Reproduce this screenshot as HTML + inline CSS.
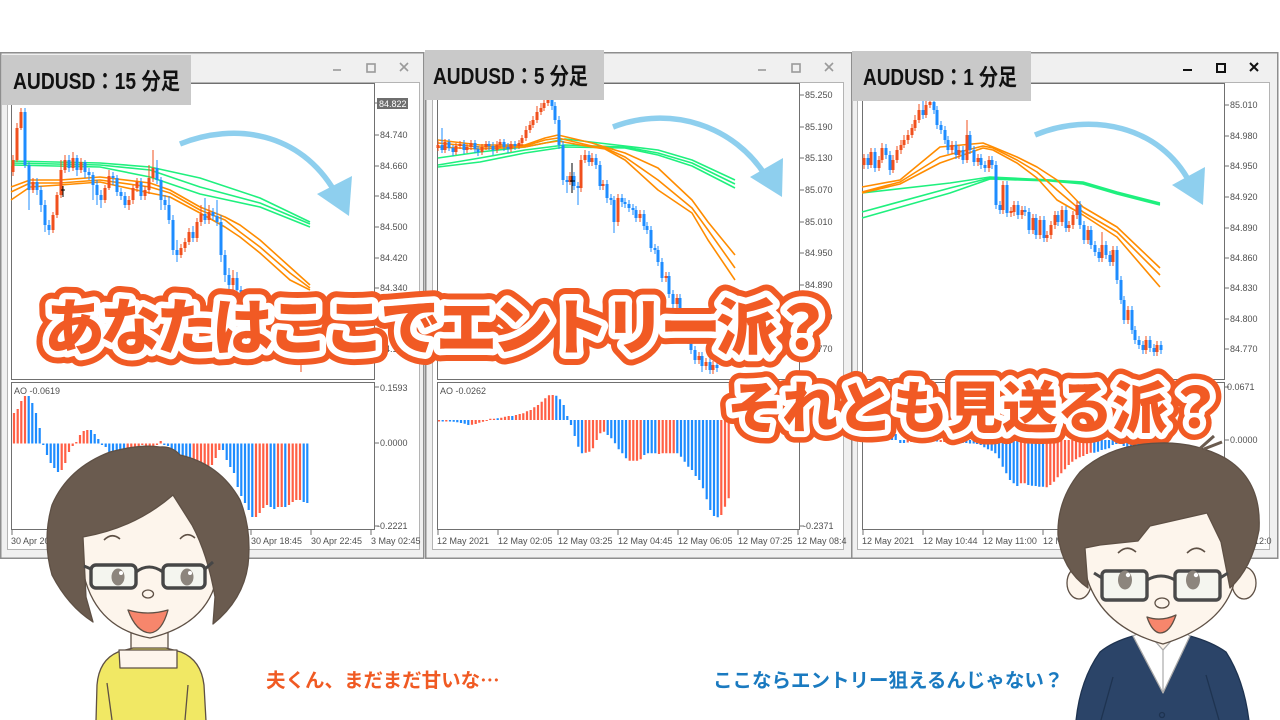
<!DOCTYPE html>
<html><head><meta charset="utf-8"><style>
html,body{margin:0;padding:0;background:#fff;width:1280px;height:720px;overflow:hidden}
svg{display:block}
</style></head><body>
<svg width="1280" height="720" viewBox="0 0 1280 720" xmlns="http://www.w3.org/2000/svg">
<rect width="1280" height="720" fill="#fff"/>

<!-- ================= WINDOW FRAMES ================= -->
<g>
<rect x="0.75" y="52.75" width="423" height="505.5" fill="#f0f0f0" stroke="#8e8e8e" stroke-width="1.5"/>
<rect x="7.5" y="82.5" width="412" height="467" fill="#fff" stroke="#b4b4b4"/>
<rect x="11.5" y="83.5" width="363" height="296" fill="#fff" stroke="#707070"/>
<rect x="11.5" y="382.5" width="363" height="147" fill="#fff" stroke="#707070"/>

<rect x="425.75" y="52.75" width="426" height="505.5" fill="#f0f0f0" stroke="#8e8e8e" stroke-width="1.5"/>
<rect x="432.5" y="82.5" width="411" height="467" fill="#fff" stroke="#b4b4b4"/>
<rect x="437.5" y="83.5" width="362" height="296" fill="#fff" stroke="#707070"/>
<rect x="437.5" y="382.5" width="362" height="147" fill="#fff" stroke="#707070"/>

<rect x="851.75" y="52.75" width="426" height="505.5" fill="#f0f0f0" stroke="#8e8e8e" stroke-width="1.5"/>
<rect x="857.5" y="82.5" width="412" height="467" fill="#fff" stroke="#b4b4b4"/>
<rect x="862.5" y="83.5" width="362" height="296" fill="#fff" stroke="#707070"/>
<rect x="862.5" y="382.5" width="362" height="147" fill="#fff" stroke="#707070"/>
</g>

<!-- title buttons -->
<g fill="none" stroke="#9a9a9a" stroke-width="1.6">
<path d="M333 70H341"/><rect x="367" y="64" width="8" height="8"/><path d="M400 63L408 71M408 63L400 71"/>
<path d="M758 70H766"/><rect x="792" y="64" width="8" height="8"/><path d="M825 63L833 71M833 63L825 71"/>
</g>
<g fill="none" stroke="#111" stroke-width="2">
<path d="M1183 70H1192"/><rect x="1217" y="64" width="8" height="8"/><path d="M1250 63L1258 71M1258 63L1250 71"/>
</g>

<!-- price axis ticks & labels -->
<g stroke="#707070" stroke-width="1">
<path d="M375 135H379M375 166H379M375 196H379M375 227H379M375 258H379M375 288H379M375 319H379M375 349H379M375 103H379"/>
<path d="M800 95H804M800 127H804M800 158H804M800 190H804M800 222H804M800 253H804M800 285H804M800 317H804M800 349H804"/>
<path d="M1225 105H1229M1225 136H1229M1225 166H1229M1225 197H1229M1225 228H1229M1225 258H1229M1225 288H1229M1225 319H1229M1225 349H1229"/>
<path d="M375 387H379M375 443H379M375 526H379M800 526H804M1225 387H1229M1225 440H1229"/>
<path d="M12 530V535M72 530V535M132 530V535M192 530V535M251 530V535M311 530V535M371 530V535"/>
<path d="M438 530V535M498 530V535M558 530V535M618 530V535M678 530V535M738 530V535M798 530V535"/>
<path d="M863 530V535M923 530V535M983 530V535M1043 530V535M1103 530V535M1163 530V535M1223 530V535"/>
</g>
<g font-family="'Liberation Sans',sans-serif" font-size="9" fill="#505050">
<rect x="377" y="98" width="31" height="11" fill="#6e6e6e"/>
<text x="379" y="107" fill="#fff">84.822</text>
<text x="380" y="138">84.740</text><text x="380" y="169">84.660</text><text x="380" y="199">84.580</text><text x="380" y="230">84.500</text><text x="380" y="261">84.420</text><text x="380" y="291">84.340</text><text x="380" y="322">84.260</text><text x="380" y="352">84.180</text>
<text x="805" y="98">85.250</text><text x="805" y="130">85.190</text><text x="805" y="161">85.130</text><text x="805" y="193">85.070</text><text x="805" y="225">85.010</text><text x="805" y="256">84.950</text><text x="805" y="288">84.890</text><text x="805" y="320">84.830</text><text x="805" y="352">84.770</text>
<text x="1230" y="108">85.010</text><text x="1230" y="139">84.980</text><text x="1230" y="169">84.950</text><text x="1230" y="200">84.920</text><text x="1230" y="231">84.890</text><text x="1230" y="261">84.860</text><text x="1230" y="291">84.830</text><text x="1230" y="322">84.800</text><text x="1230" y="352">84.770</text>
<text x="380" y="391">0.1593</text><text x="380" y="446">0.0000</text><text x="377" y="529">-0.2221</text>
<text x="805" y="391">0.1226</text><text x="805" y="423">0.0000</text><text x="803" y="529">-0.2371</text>
<text x="1227" y="390">0.0671</text><text x="1230" y="443">0.0000</text><text x="1228" y="529">-0.1836</text>
<text x="14" y="394">AO -0.0619</text><text x="440" y="394">AO -0.0262</text><text x="865" y="394">AO -0.0412</text>
<text x="11" y="544">30 Apr 2021</text><text x="73" y="544">30 Apr 06:45</text><text x="133" y="544">30 Apr 10:45</text><text x="193" y="544">30 Apr 14:45</text><text x="251" y="544">30 Apr 18:45</text><text x="311" y="544">30 Apr 22:45</text><text x="371" y="544">3 May 02:45</text>
<text x="437" y="544">12 May 2021</text><text x="498" y="544">12 May 02:05</text><text x="558" y="544">12 May 03:25</text><text x="618" y="544">12 May 04:45</text><text x="678" y="544">12 May 06:05</text><text x="738" y="544">12 May 07:25</text><text x="797" y="544">12 May 08:4</text>
<text x="862" y="544">12 May 2021</text><text x="923" y="544">12 May 10:44</text><text x="983" y="544">12 May 11:00</text><text x="1043" y="544">12 May 11:16</text><text x="1103" y="544">12 May 11:32</text><text x="1163" y="544">12 May 11:48</text><text x="1222" y="544">12 May 12:0</text>
</g>

<!-- ================= CHART 1 ================= -->
<g fill="none" stroke-width="1.6" stroke-linejoin="round">
<polyline stroke="#1ff07e" points="11,161 100,163 150,167 200,178 260,198 310,222"/>
<polyline stroke="#1ff07e" points="11,163 100,165 150,170 200,187 260,203 310,224"/>
<polyline stroke="#1ff07e" points="11,165 100,167 150,177 200,194 260,207 310,227"/>
<polyline stroke="#ff8c00" points="11,187 30,180 60,180 100,177 150,183 170,190 200,207 225,217 240,225 260,240 290,267 310,285"/>
<polyline stroke="#ff8c00" points="11,192 30,183 60,183 100,180 150,187 170,193 200,210 225,220 240,232 260,247 290,273 310,288"/>
<polyline stroke="#ff8c00" points="11,200 30,187 60,185 100,182 150,193 170,197 200,213 225,227 240,237 260,253 290,280 310,290"/>
</g>
<path stroke="#f0501e" stroke-width="1" d="M13 155V176M17 123V162M21 108V130M33 178V193M53 212V233M57 192V218M61 160V198M65 155V173M73 152V171M81 158V173M105 185V203M109 170V190M129 196V210M133 185V204M137 178V192M145 186V200M149 165V194M153 150V182M181 244V258M185 238V252M189 228V245M197 218V242M201 205V226M209 205V224M233 270V292M245 290V305M265 315V330M281 335V350M293 348V362M301 350V372"/>
<path stroke="#f0501e" stroke-width="3" d="M13 160V172M17 128V160M21 112V128M33 182V190M53 215V230M57 195V215M61 170V195M65 160V170M73 158V168M81 162V170M105 188V200M109 176V188M129 200V205M133 188V200M137 182V188M145 190V196M149 178V190M153 168V178M181 248V255M185 242V248M189 232V242M197 222V238M201 214V222M209 212V220M233 278V285M245 296V300M265 320V325M281 340V345M293 352V356M301 355V358"/>
<path stroke="#1e8cff" stroke-width="1" d="M25 108V168M29 162V210M37 178V195M41 186V212M45 200V232M49 220V235M69 155V172M77 155V176M85 160V178M89 168V180M93 172V200M97 180V205M101 190V208M113 172V185M117 175V196M121 188V200M125 192V208M141 178V200M157 160V184M161 177V210M165 195V210M169 196V224M173 215V255M177 240V262M193 226V242M205 198V224M213 208V220M217 200V226M221 215V262M225 250V282M229 268V290M237 272V296M241 286V304M249 292V309M253 301V316M257 308V322M261 314V329M269 316V334M273 326V342M277 334V349M285 336V354M289 346V360M297 348V362M305 351V364"/>
<path stroke="#1e8cff" stroke-width="3" d="M25 112V165M29 165V190M37 182V190M41 190V205M45 205V225M49 225V230M69 160V168M77 158V170M85 162V172M89 172V175M93 175V185M97 185V195M101 195V200M113 176V178M117 178V192M121 192V196M125 196V205M141 182V196M157 168V180M161 180V200M165 200V205M169 205V220M173 220V250M177 250V255M193 232V238M205 214V220M213 212V216M217 216V222M221 222V255M225 255V275M229 275V285M237 278V290M241 290V300M249 296V305M253 305V312M257 312V318M261 318V325M269 320V330M273 330V338M277 338V345M285 340V350M289 350V356M297 352V358M305 355V360"/>
<path stroke="#000" stroke-width="1" d="M63 186V197M61 190H65"/>
<path stroke="#ff5f45" stroke-width="2.2" d="M14 443.5V413M17.7 443.5V409M21.3 443.5V401M25 443.5V396M61.7 443.5V470M65.3 443.5V463M69 443.5V452M72.7 443.5V446M76.3 443.5V442M80 443.5V435M83.7 443.5V431M87.3 443.5V430M127.7 443.5V452M131.3 443.5V448M135 443.5V447M138.7 443.5V446M142.3 443.5V445M146 443.5V446M149.7 443.5V447M153.3 443.5V446M157 443.5V445M160.7 443.5V441M193.7 443.5V470M197.3 443.5V471M201 443.5V473M204.7 443.5V472M208.3 443.5V469M212 443.5V465M215.7 443.5V458M219.3 443.5V450M256 443.5V517M259.7 443.5V513M263.3 443.5V508M267 443.5V505M278 443.5V507M281.7 443.5V507M289 443.5V505M292.7 443.5V502M296.3 443.5V500M300 443.5V500"/>
<path stroke="#1e8cff" stroke-width="2.2" d="M28.7 443.5V396M32.3 443.5V403M36 443.5V413M39.7 443.5V428M43.3 443.5V445M47 443.5V455M50.7 443.5V463M54.3 443.5V468M58 443.5V472M91 443.5V430M94.7 443.5V434M98.3 443.5V439M102 443.5V445M105.7 443.5V447M109.3 443.5V452M113 443.5V458M116.7 443.5V460M120.3 443.5V459M124 443.5V455M164.3 443.5V445M168 443.5V446M171.7 443.5V450M175.3 443.5V455M179 443.5V460M182.7 443.5V467M186.3 443.5V468M190 443.5V469M223 443.5V450M226.7 443.5V460M230.3 443.5V467M234 443.5V473M237.7 443.5V487M241.3 443.5V496M245 443.5V503M248.7 443.5V510M252.3 443.5V517M270.7 443.5V507M274.3 443.5V509M285.3 443.5V507M303.7 443.5V502M307.3 443.5V503"/>

<!-- ================= CHART 2 ================= -->
<g fill="none" stroke-width="1.6" stroke-linejoin="round">
<polyline stroke="#1ff07e" points="438,158 480,152 525,147 565,139 625,146 658,150 692,160 735,180"/>
<polyline stroke="#1ff07e" points="438,165 480,158 525,150 565,145 625,147 658,153 692,163 735,184"/>
<polyline stroke="#1ff07e" points="438,167 480,162 525,153 565,147 625,148 658,155 692,166 735,188"/>
<polyline stroke="#ff8c00" points="438,140 480,145 525,145 545,138 558,135 592,143 605,147 625,153 658,168 692,200 708,222 735,255"/>
<polyline stroke="#ff8c00" points="438,143 480,147 525,146 545,140 558,138 592,146 605,148 625,157 658,180 692,208 708,230 735,268"/>
<polyline stroke="#ff8c00" points="438,147 480,149 525,147 545,143 558,141 592,147 605,149 625,160 658,190 692,213 708,240 735,280"/>
</g>
<path stroke="#f0501e" stroke-width="1" d="M438 141V151M445 139V153M456 143V155M460 141V149M467 144V153M471 140V150M482 144V155M486 141V150M497 141V153M500 139V148M511 141V152M519 140V149M522 135V146M526 126V141M530 121V133M533 116V128M537 106V123M541 103V115M544 99V111M548 96V106M570 172V185M581 155V192M585 150V163M592 153V166M603 180V190M618 194V226M640 210V222M666 272V282M677 294V308M699 352V364M706 358V370M713 361V374"/>
<path stroke="#f0501e" stroke-width="3" d="M438 145V148M445 142V150M456 146V152M460 144V146M467 147V150M471 143V147M482 147V152M486 144V147M497 145V150M500 142V145M511 144V149M519 143V146M522 138V143M526 130V138M530 125V130M533 120V125M537 112V120M541 108V112M544 103V108M548 100V103M570 176V182M581 160V188M585 155V160M592 158V162M603 184V186M618 198V222M640 214V218M666 276V278M677 298V304M699 356V360M706 362V366M713 365V370"/>
<path stroke="#1e8cff" stroke-width="1" d="M442 128V153M449 139V151M453 145V156M464 140V154M475 140V153M478 146V156M489 141V150M493 142V155M504 139V151M508 143V153M515 141V150M552 97V110M555 102V124M559 116V149M563 141V185M567 176V193M574 172V190M578 182V205M589 151V166M596 154V169M600 161V190M607 180V203M611 194V205M614 196V233M622 194V207M625 198V208M629 200V212M633 204V215M636 206V222M644 210V230M647 222V234M651 226V252M655 244V254M658 246V266M662 258V282M669 272V298M673 290V308M680 294V322M684 314V332M688 324V344M691 336V354M695 346V364M702 352V372M710 358V374M717 361V372"/>
<path stroke="#1e8cff" stroke-width="3" d="M442 145V150M449 142V148M453 148V152M464 144V150M475 143V149M478 149V152M489 144V146M493 146V150M504 142V147M508 147V149M515 144V146M552 100V106M555 106V120M559 120V145M563 145V180M567 180V182M574 176V186M578 186V188M589 155V162M596 158V165M600 165V186M607 184V198M611 198V200M614 200V222M622 198V202M625 202V204M629 204V208M633 208V210M636 210V218M644 214V226M647 226V230M651 230V248M655 248V250M658 250V262M662 262V278M669 276V294M673 294V304M680 298V318M684 318V328M688 328V340M691 340V350M695 350V360M702 356V366M710 362V370M717 365V368"/>
<path stroke="#000" stroke-width="1" d="M572 163V193M570 181H575"/>
<path stroke="#ff5f45" stroke-width="2.2" d="M439 420V421.5M446.3 420V421.5M472 420V424.7M475.7 420V424M479.3 420V422.7M483 420V421.7M486.7 420V421M490.3 420V418.7M494 420V418.7M501.3 420V417.7M505 420V416.7M508.7 420V416M516 420V415M519.7 420V414M523.3 420V413.3M527 420V411.3M530.7 420V410M534.3 420V407.3M538 420V405M541.7 420V401.7M545.3 420V398.3M549 420V395.3M552.7 420V395M585.7 420V452.7M589.3 420V451.7M593 420V448.3M596.7 420V440M600.3 420V433.3M604 420V431.7M629.7 420V460.7M633.3 420V460.7M637 420V460.7M640.7 420V459.3M659 420V454M662.7 420V453.3M666.3 420V453.3M670 420V453.3M673.7 420V453.3M721.3 420V515M725 420V506.7M728.7 420V498.3"/>
<path stroke="#1e8cff" stroke-width="2.2" d="M442.7 420V421.5M450 420V421.5M453.7 420V421.7M457.3 420V422.3M461 420V423M464.7 420V423.7M468.3 420V425M497.7 420V418.3M512.3 420V416M556.3 420V395.7M560 420V399.3M563.7 420V405M567.3 420V416M571 420V425M574.7 420V436M578.3 420V446.7M582 420V453.3M607.7 420V435M611.3 420V438.3M615 420V443.3M618.7 420V449.3M622.3 420V453.3M626 420V458.3M644.3 420V455M648 420V453.3M651.7 420V453.3M655.3 420V453.3M677.3 420V453.3M681 420V456.7M684.7 420V461.7M688.3 420V466.7M692 420V470M695.7 420V476M699.3 420V480M703 420V488.3M706.7 420V499.3M710.3 420V510M714 420V516M717.7 420V517.3"/>

<!-- ================= CHART 3 ================= -->
<g fill="none" stroke-width="1.6" stroke-linejoin="round">
<polyline stroke="#1ff07e" points="862,193 950,183 990,177 1050,180 1083,182 1117,192 1160,203"/>
<polyline stroke="#1ff07e" points="862,212 950,188 990,178 1050,180 1083,183 1117,193 1160,204"/>
<polyline stroke="#1ff07e" points="862,218 950,193 990,179 1050,181 1083,184 1117,194 1160,205"/>
<polyline stroke="#ff8c00" points="862,187 900,180 940,147 983,143 993,147 1017,157 1037,167 1057,180 1083,207 1117,227 1160,268"/>
<polyline stroke="#ff8c00" points="862,192 900,182 940,157 983,146 993,148 1017,160 1037,172 1057,190 1083,212 1117,232 1160,275"/>
<polyline stroke="#ff8c00" points="862,193 900,184 940,163 983,148 993,150 1017,163 1037,178 1057,200 1083,215 1117,237 1160,287"/>
</g>
<path stroke="#f0501e" stroke-width="1" d="M864 154V169M871 148V168M879 156V171M882 143V163M893 155V173M897 146V163M901 140V154M904 135V148M908 130V144M912 124V138M915 115V131M919 104V123M926 100V118M930 98V108M952 141V154M959 146V159M967 120V163M978 154V166M989 156V172M1003 181V214M1011 207V217M1014 201V216M1022 206V219M1033 214V234M1040 216V239M1047 231V242M1051 221V239M1055 211V229M1062 206V226M1069 221V232M1073 211V229M1077 201V219M1088 226V244M1102 232V262M1113 246V266M1128 306V324M1146 336V354M1157 341V356"/>
<path stroke="#f0501e" stroke-width="3" d="M864 158V165M871 152V165M879 160V168M882 148V160M893 160V170M897 150V160M901 145V150M904 140V145M908 135V140M912 128V135M915 120V128M919 110V120M926 105V115M930 102V105M952 145V150M959 150V155M967 135V160M978 158V162M989 160V168M1003 185V210M1011 211V213M1014 205V212M1022 210V215M1033 218V230M1040 220V235M1047 235V238M1051 225V235M1055 215V225M1062 210V222M1069 225V228M1073 215V225M1077 205V215M1088 230V240M1102 245V258M1113 250V262M1128 310V320M1146 340V350M1157 345V352"/>
<path stroke="#1e8cff" stroke-width="1" d="M868 154V169M875 148V172M886 144V159M890 151V175M923 100V119M934 98V114M937 106V129M941 121V134M945 126V144M948 136V154M956 141V159M963 146V164M970 131V154M974 146V166M981 154V169M985 161V172M992 156V169M996 161V209M1000 201V214M1007 181V217M1018 201V219M1025 206V216M1029 208V234M1036 214V239M1044 216V242M1058 211V226M1066 206V232M1080 201V229M1084 221V244M1091 226V249M1095 241V256M1099 248V262M1106 241V259M1110 251V266M1117 246V284M1121 276V304M1124 296V324M1132 306V334M1135 326V344M1139 336V349M1143 341V354M1150 336V352M1154 344V356M1161 341V354"/>
<path stroke="#1e8cff" stroke-width="3" d="M868 158V165M875 152V168M886 148V155M890 155V170M923 110V115M934 102V110M937 110V125M941 125V130M945 130V140M948 140V150M956 145V155M963 150V160M970 135V150M974 150V162M981 158V165M985 165V168M992 160V165M996 165V205M1000 205V210M1007 185V213M1018 205V215M1025 210V212M1029 212V230M1036 218V235M1044 220V238M1058 215V222M1066 210V228M1080 205V225M1084 225V240M1091 230V245M1095 245V252M1099 252V258M1106 245V255M1110 255V262M1117 250V280M1121 280V300M1124 300V320M1132 310V330M1135 330V340M1139 340V345M1143 345V350M1150 340V348M1154 348V352M1161 345V350"/>
<path stroke="#ff5f45" stroke-width="2.2" d="M862.7 440V425M866.3 440V418M870 440V410M873.7 440V405M907.7 440V442.5M911.3 440V442M922.3 440V441.5M926 440V441.5M940.7 440V442M944.3 440V442M955.3 440V442M959 440V442.5M1021 440V483.3M1024.7 440V483.3M1046.7 440V487.3M1050.3 440V485M1054 440V481.7M1057.7 440V477.3M1061.3 440V473.3M1065 440V469.3M1068.7 440V465M1072.3 440V461.7M1076 440V459.3M1079.7 440V457.3M1083.3 440V456M1087 440V454M1090.7 440V452.7M1145.7 440V515M1149.3 440V512M1153 440V508M1156.7 440V505M1160.3 440V504"/>
<path stroke="#1e8cff" stroke-width="2.2" d="M877.3 440V402M881 440V406M884.7 440V412M888.3 440V418M892 440V426M895.7 440V434M900.3 440V443M904 440V443M915 440V442M918.7 440V442M929.7 440V441.5M933.3 440V441.5M937 440V441.5M948 440V441.5M951.7 440V441.5M962.7 440V443M966.3 440V443M970 440V443.5M973.7 440V443.5M977 440V444M980.7 440V445M984.3 440V447.3M988 440V449.3M991.7 440V450.7M995.3 440V453.3M999 440V458.3M1002.7 440V466.7M1006.3 440V473.3M1010 440V480M1013.7 440V483.3M1017.3 440V486M1028.3 440V485M1032 440V485.7M1035.7 440V486M1039.3 440V486.7M1043 440V486.7M1094.3 440V452.7M1098 440V451.7M1101.7 440V450M1105.3 440V449.3M1109 440V448.3M1112.7 440V445M1116.3 440V444M1120 440V441.7M1123.7 440V446M1127.3 440V456M1131 440V470M1134.7 440V488M1138.3 440V503M1142 440V512"/>

<!-- ================= ARROWS ================= -->
<g fill="none" stroke="#8ecfee" stroke-width="5.5">
<path d="M180 144C235 122 300 132 335 192"/>
<path d="M613 127C670 105 735 125 767 178"/>
<path d="M1035 135C1090 112 1160 125 1190 183"/>
</g>
<g fill="#8ecfee">
<polygon points="317,194 352,176 349,216"/>
<polygon points="750,177 783,158 782,197"/>
<polygon points="1172,185 1205,167 1203,205"/>
</g>

<!-- ================= LABEL BOXES ================= -->
<g font-family="'Liberation Sans','Noto Sans CJK JP',sans-serif" font-weight="bold" font-size="23" fill="#111">
<rect x="2" y="55" width="189" height="50" fill="#c9c9c9"/>
<text x="13" y="89" textLength="167" lengthAdjust="spacingAndGlyphs">AUDUSD：15 分足</text>
<rect x="425" y="50" width="179" height="50" fill="#c9c9c9"/>
<text x="433" y="84" textLength="155" lengthAdjust="spacingAndGlyphs">AUDUSD：5 分足</text>
<rect x="852" y="51" width="179" height="50" fill="#c9c9c9"/>
<text x="863" y="85" textLength="154" lengthAdjust="spacingAndGlyphs">AUDUSD：1 分足</text>
</g>

<!-- ================= BIG TEXT ================= -->
<g font-family="'Noto Sans CJK JP','Noto Sans CJK SC',sans-serif" font-weight="900" stroke-linejoin="round">
<text x="44" y="349" font-size="61" letter-spacing="-5" fill="#f15a24" stroke="#f15a24" stroke-width="25">あなたはここでエントリー派？</text>
<text x="44" y="349" font-size="61" letter-spacing="-5" fill="#fff" stroke="#fff" stroke-width="13">あなたはここでエントリー派？</text>
<text x="44" y="349" font-size="61" letter-spacing="-5" fill="#f15a24">あなたはここでエントリー派？</text>
<text x="727" y="428" font-size="56" letter-spacing="-1" fill="#f15a24" stroke="#f15a24" stroke-width="23">それとも見送る派？</text>
<text x="727" y="428" font-size="56" letter-spacing="-1" fill="#fff" stroke="#fff" stroke-width="12">それとも見送る派？</text>
<text x="727" y="428" font-size="56" letter-spacing="-1" fill="#f15a24">それとも見送る派？</text>
</g>

<!-- ================= WOMAN ================= -->
<g stroke="#5e5045" stroke-width="1.3" stroke-linejoin="round">
<path d="M131 622L131 662L168 662L168 622Z" fill="#fdf5ec"/>
<path d="M96 721L97 685Q99 660 118 652L133 648L166 648L181 652Q201 660 204 685L206 721Z" fill="#f1e864"/>
<path d="M119 650L120 668L177 668L177 650Z" fill="#fdf5ec"/>
<path d="M107 683L112 720M188 685L185 720" fill="none"/>
<path d="M80 545Q80 478 150 476Q220 478 219 560Q217 622 150 638Q83 626 80 545Z" fill="#fdf5ec"/>
<path d="M173 495Q135 528 83 537L86 597L93 622Q68 606 52 575Q42 540 52 505Q68 468 110 452Q140 444 160 447Q172 446 180 455Q220 464 240 500Q252 530 248 565Q243 600 213 624L215 597Q208 555 192 525Z" fill="#6a5b4f"/>
<path d="M104 540Q112 532 120 539M180 539Q187 531 195 538" fill="none" stroke-width="1.6"/>
<ellipse cx="148" cy="594" rx="5.5" ry="4" fill="#fdf5ec"/>
<path d="M128 610Q148 616 168 610Q162 632 150 633Q136 632 128 610Z" fill="#f7866c"/>
</g>
<g stroke="#464646" stroke-width="3.4" fill="#f4f5ef">
<rect x="91" y="565" width="45" height="23" rx="5"/>
<rect x="163" y="565" width="42" height="23" rx="5"/>
<path d="M136 572Q149 562 163 572M91 569L84 566M205 569L213 562" fill="none" stroke-width="3"/>
</g>
<ellipse cx="118" cy="577" rx="6.5" ry="8.5" fill="#8c857d"/><circle cx="121" cy="573" r="2" fill="#fff"/>
<ellipse cx="187" cy="577" rx="6.5" ry="8.5" fill="#8c857d"/><circle cx="190" cy="573" r="2" fill="#fff"/>

<!-- ================= MAN ================= -->
<g stroke="#5e5045" stroke-width="1.3" stroke-linejoin="round">
<path d="M1143 618L1143 650L1183 650L1183 618Z" fill="#fdf5ec"/>
<path d="M1076 721Q1080 680 1100 652Q1112 642 1133 636L1163 693L1190 636Q1212 642 1226 652Q1244 680 1249 721Z" fill="#2b4468" stroke="#1e3350"/>
<path d="M1133 636L1163 693L1190 636L1181 630L1163 650L1145 630Z" fill="#fff" stroke="#a8a8a8"/>
<path d="M1163 650V693" stroke="#b0b0b0" fill="none"/>
<path d="M1113 677L1101 720M1206 675L1219 720" stroke="#1e3350" fill="none"/>
<circle cx="1162" cy="715" r="2.5" fill="none" stroke="#1e3350"/>
<ellipse cx="1079" cy="583" rx="12" ry="16" fill="#fdf5ec"/>
<ellipse cx="1244" cy="583" rx="12" ry="16" fill="#fdf5ec"/>
<path d="M1083 560Q1084 500 1160 498Q1237 500 1237 565Q1234 622 1163 644Q1092 625 1083 560Z" fill="#fdf5ec"/>
<path d="M1088 588L1085 548L1100 545L1138 541L1150 526L1207 513L1221 542L1230 588Q1252 568 1259 530Q1262 480 1225 458Q1195 442 1160 443Q1110 444 1080 472Q1057 500 1058 535Q1062 570 1088 588Z" fill="#6a5b4f"/>
<path d="M1196 452L1214 436M1204 449L1222 442" stroke="#6a5b4f" stroke-width="3" fill="none"/>
<path d="M1118 553Q1127 544 1136 552M1187 553Q1196 544 1205 552" fill="none" stroke-width="1.6"/>
<ellipse cx="1162" cy="603" rx="7" ry="5" fill="#fdf5ec"/>
<path d="M1147 617Q1161 622 1176 615Q1170 633 1160 633Q1152 632 1147 617Z" fill="#f7866c"/>
</g>
<g stroke="#4a4a4a" stroke-width="3.4" fill="#f4f5ef">
<rect x="1102" y="571" width="45" height="29" rx="4"/>
<rect x="1175" y="571" width="45" height="29" rx="4"/>
<path d="M1147 580Q1161 572 1175 580M1102 578L1094 573M1220 578L1228 573" fill="none" stroke-width="3"/>
</g>
<ellipse cx="1125" cy="580" rx="7" ry="9.5" fill="#8c857d"/><circle cx="1128" cy="575" r="2.2" fill="#fff"/>
<ellipse cx="1193" cy="580" rx="7" ry="9.5" fill="#8c857d"/><circle cx="1196" cy="575" r="2.2" fill="#fff"/>

<!-- ================= SPEECH ================= -->
<g font-family="'Noto Sans CJK JP','Noto Sans CJK SC',sans-serif" font-weight="bold" font-size="19.5">
<text x="266" y="687" fill="#f05a23">夫くん、まだまだ甘いな…</text>
<text x="713" y="687" fill="#1a7ac0">ここならエントリー狙えるんじゃない？</text>
</g>
</svg>
</body></html>
